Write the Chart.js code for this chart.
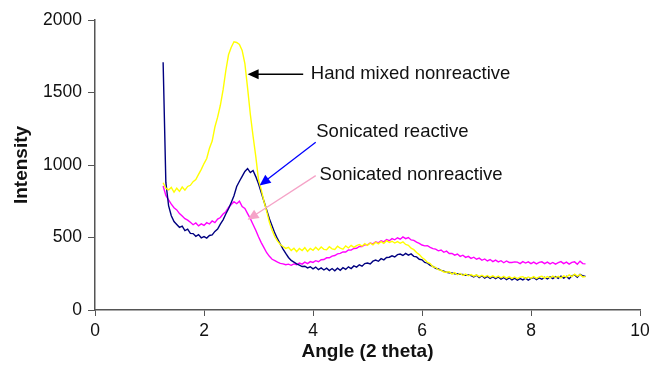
<!DOCTYPE html>
<html>
<head>
<meta charset="utf-8">
<script src="https://cdn.jsdelivr.net/npm/chart.js@4/dist/chart.umd.min.js"></script>
<style>
  body { margin: 0; background: #fff; }
  #wrap { width: 651px; height: 373px; }
</style>
</head>
<body>
<div id="wrap"><canvas id="xrd" width="651" height="373"></canvas></div>
<script>
// angle (2 theta) grid, every 0.05
var angles = [
  1.25,1.30,1.35,1.40,1.45,1.50,1.55,1.60,1.65,1.70,
  1.75,1.80,1.85,1.90,1.95,2.00,2.05,2.10,2.15,2.20,
  2.25,2.30,2.35,2.40,2.45,2.50,2.55,2.60,2.65,2.70,
  2.75,2.80,2.85,2.90,2.95,3.00,3.05,3.10,3.15,3.20,
  3.25,3.30,3.35,3.40,3.45,3.50,3.55,3.60,3.65,3.70,
  3.75,3.80,3.85,3.90,3.95,4.00,4.05,4.10,4.15,4.20,
  4.25,4.30,4.35,4.40,4.45,4.50,4.55,4.60,4.65,4.70,
  4.75,4.80,4.85,4.90,4.95,5.00,5.05,5.10,5.15,5.20,
  5.25,5.30,5.35,5.40,5.45,5.50,5.55,5.60,5.65,5.70,
  5.75,5.80,5.85,5.90,5.95,6.00,6.05,6.10,6.15,6.20,
  6.25,6.30,6.35,6.40,6.45,6.50,6.55,6.60,6.65,6.70,
  6.75,6.80,6.85,6.90,6.95,7.00,7.05,7.10,7.15,7.20,
  7.25,7.30,7.35,7.40,7.45,7.50,7.55,7.60,7.65,7.70,
  7.75,7.80,7.85,7.90,7.95,8.00,8.05,8.10,8.15,8.20,
  8.25,8.30,8.35,8.40,8.45,8.50,8.55,8.60,8.65,8.70,
  8.75,8.80,8.85,8.90,8.95,9.00
];

var handMixed = [
  878,840,828,845,812,840,818,848,826,852,
  860,885,900,935,970,1010,1045,1115,1165,1262,
  1330,1412,1518,1650,1760,1812,1850,1845,1832,1790,
  1700,1530,1350,1200,1060,900,830,750,680,605,
  550,505,475,452,438,425,432,410,426,402,
  424,410,430,404,424,412,432,414,434,418,
  416,436,422,418,440,426,420,442,428,446,
  432,444,452,440,458,446,462,450,468,456,
  472,460,478,466,474,462,472,460,470,452,
  446,426,416,396,382,362,348,328,320,298,
  294,278,274,262,260,264,248,258,243,252,
  238,248,236,244,233,242,230,240,228,238,
  226,236,224,234,222,232,220,230,218,228,
  216,226,230,218,228,220,230,218,228,232,
  220,230,222,234,224,232,222,236,226,242,
  230,247,234,244,228,230
];

var sonReactive = [
  1708,880,720,650,610,590,570,578,548,558,
  528,527,508,520,498,506,496,514,518,542,
  558,592,622,662,698,742,788,852,888,922,
  955,975,948,962,920,870,810,750,690,630,
  580,530,490,455,420,390,362,342,330,318,
  310,300,302,290,298,284,296,278,290,276,
  288,272,286,270,288,274,292,280,298,286,
  304,296,312,302,320,324,318,337,344,336,
  354,346,362,364,374,366,382,386,376,390,
  378,387,370,366,350,346,328,323,308,301,
  288,283,273,268,260,257,256,250,250,246,
  246,240,242,237,228,240,224,236,220,232,
  218,230,216,228,213,224,210,222,208,220,
  206,217,208,220,206,218,224,210,222,212,
  226,214,228,216,230,218,234,220,232,216,
  236,242,226,246,236,232
];

var sonNonreactive = [
  855,790,760,730,705,690,665,648,630,620,
  605,588,600,580,594,583,602,593,614,603,
  627,638,662,678,707,728,747,733,750,713,
  700,665,630,590,550,505,465,430,395,370,
  350,340,330,322,318,312,316,308,318,312,
  324,316,330,320,334,328,340,333,347,348,
  360,360,372,376,387,390,400,400,414,413,
  424,426,438,438,450,450,462,456,470,463,
  478,470,486,478,492,484,498,488,504,492,
  500,483,480,468,460,448,442,443,432,423,
  420,408,414,398,406,390,390,378,386,370,
  378,363,370,356,364,350,358,343,352,338,
  348,334,344,332,340,326,338,328,328,332,
  330,320,334,324,332,320,330,318,328,332,
  320,330,318,328,316,326,334,320,330,316,
  328,332,316,337,320,318
];

var yTicks = [0, 500, 1000, 1500, 2000];
var seriesNames = ['Hand mixed nonreactive', 'Sonicated reactive', 'Sonicated nonreactive'];
var seriesColors = ['#ffff00', '#000080', '#ff00ff'];

// callouts, in data units (angle, intensity)
var noteText  = ['Hand mixed nonreactive', 'Sonicated reactive', 'Sonicated nonreactive'];
var noteAt    = [[3.96, 1630], [4.06, 1231], [4.12, 932]];
var arrowFrom = [[3.82, 1626], [4.05, 1157], [4.05, 927]];
var arrowTo   = [[2.80, 1626], [3.02, 859], [2.80, 622]];
var arrowColors = ['#000000', '#0000ff', '#f5a3c7'];

var FONT = '"Liberation Sans", Arial, sans-serif';

function pts(ys) {
  return angles.map(function (a, i) { return { x: a, y: ys[i] }; });
}

var callouts = {
  id: 'callouts',
  afterDatasetsDraw: function (chart) {
    var ctx = chart.ctx, sx = chart.scales.x, sy = chart.scales.y;
    ctx.save();
    for (var i = 0; i < noteText.length; i++) {
      var x0 = sx.getPixelForValue(arrowFrom[i][0]), y0 = sy.getPixelForValue(arrowFrom[i][1]);
      var x1 = sx.getPixelForValue(arrowTo[i][0]), y1 = sy.getPixelForValue(arrowTo[i][1]);
      var ang = Math.atan2(y1 - y0, x1 - x0);
      var len = 11, half = 5;
      ctx.strokeStyle = arrowColors[i];
      ctx.fillStyle = arrowColors[i];
      ctx.lineWidth = 1.3;
      ctx.beginPath();
      ctx.moveTo(x0, y0);
      ctx.lineTo(x1 - Math.cos(ang) * len * 0.8, y1 - Math.sin(ang) * len * 0.8);
      ctx.stroke();
      var bx = x1 - Math.cos(ang) * len, by = y1 - Math.sin(ang) * len;
      ctx.beginPath();
      ctx.moveTo(x1, y1);
      ctx.lineTo(bx + Math.sin(ang) * half, by - Math.cos(ang) * half);
      ctx.lineTo(bx - Math.sin(ang) * half, by + Math.cos(ang) * half);
      ctx.closePath();
      ctx.fill();

      ctx.fillStyle = '#111';
      ctx.font = '18.5px ' + FONT;
      ctx.textBaseline = 'middle';
      ctx.textAlign = 'left';
      ctx.fillText(noteText[i], sx.getPixelForValue(noteAt[i][0]), sy.getPixelForValue(noteAt[i][1]));
    }
    ctx.restore();
  }
};

var ctx = document.getElementById('xrd').getContext('2d');
var xrdChart = new Chart(ctx, {
  type: 'line',
  data: {
    datasets: [
      { label: seriesNames[0], data: pts(handMixed), borderColor: seriesColors[0] },
      { label: seriesNames[1], data: pts(sonReactive), borderColor: seriesColors[1] },
      { label: seriesNames[2], data: pts(sonNonreactive), borderColor: seriesColors[2] }
    ]
  },
  options: {
    responsive: false,
    animation: false,
    devicePixelRatio: 1,
    layout: { padding: { top: 20, right: 11, left: 0, bottom: 0 } },
    elements: {
      point: { radius: 0 },
      line: { borderWidth: 1.4, tension: 0, fill: false }
    },
    plugins: {
      legend: { display: false },
      tooltip: { enabled: false }
    },
    scales: {
      x: {
        type: 'linear',
        min: 0,
        max: 10,
        afterFit: function (s) { s.height = 63; s.paddingRight = 0; s.paddingLeft = 0; },
        ticks: { stepSize: 2, color: '#111', padding: 5, font: { family: FONT, size: 17.5 } },
        grid: { display: true, drawOnChartArea: false, drawTicks: true, tickLength: 6, color: '#555' },
        border: { display: true, color: '#555', width: 1.5 },
        title: { display: true, text: 'Angle (2 theta)', color: '#111',
                 padding: { top: 0, bottom: 10 }, font: { family: FONT, size: 19, weight: 'bold' } }
      },
      y: {
        min: 0,
        max: 2000,
        afterFit: function (s) { s.width = 95; s.paddingTop = 0; s.paddingBottom = 0; },
        afterBuildTicks: function (s) { s.ticks = yTicks.map(function (v) { return { value: v }; }); },
        ticks: { color: '#111', padding: 6, font: { family: FONT, size: 17.5 },
                 callback: function (v) { return String(v); } },
        grid: { display: true, drawOnChartArea: false, drawTicks: true, tickLength: 7, color: '#555' },
        border: { display: true, color: '#555', width: 1.5 },
        title: { display: true, text: 'Intensity', color: '#111',
                 padding: { top: 10, bottom: 0 }, font: { family: FONT, size: 19, weight: 'bold' } }
      }
    }
  },
  plugins: [callouts]
});
</script>
</body>
</html>
